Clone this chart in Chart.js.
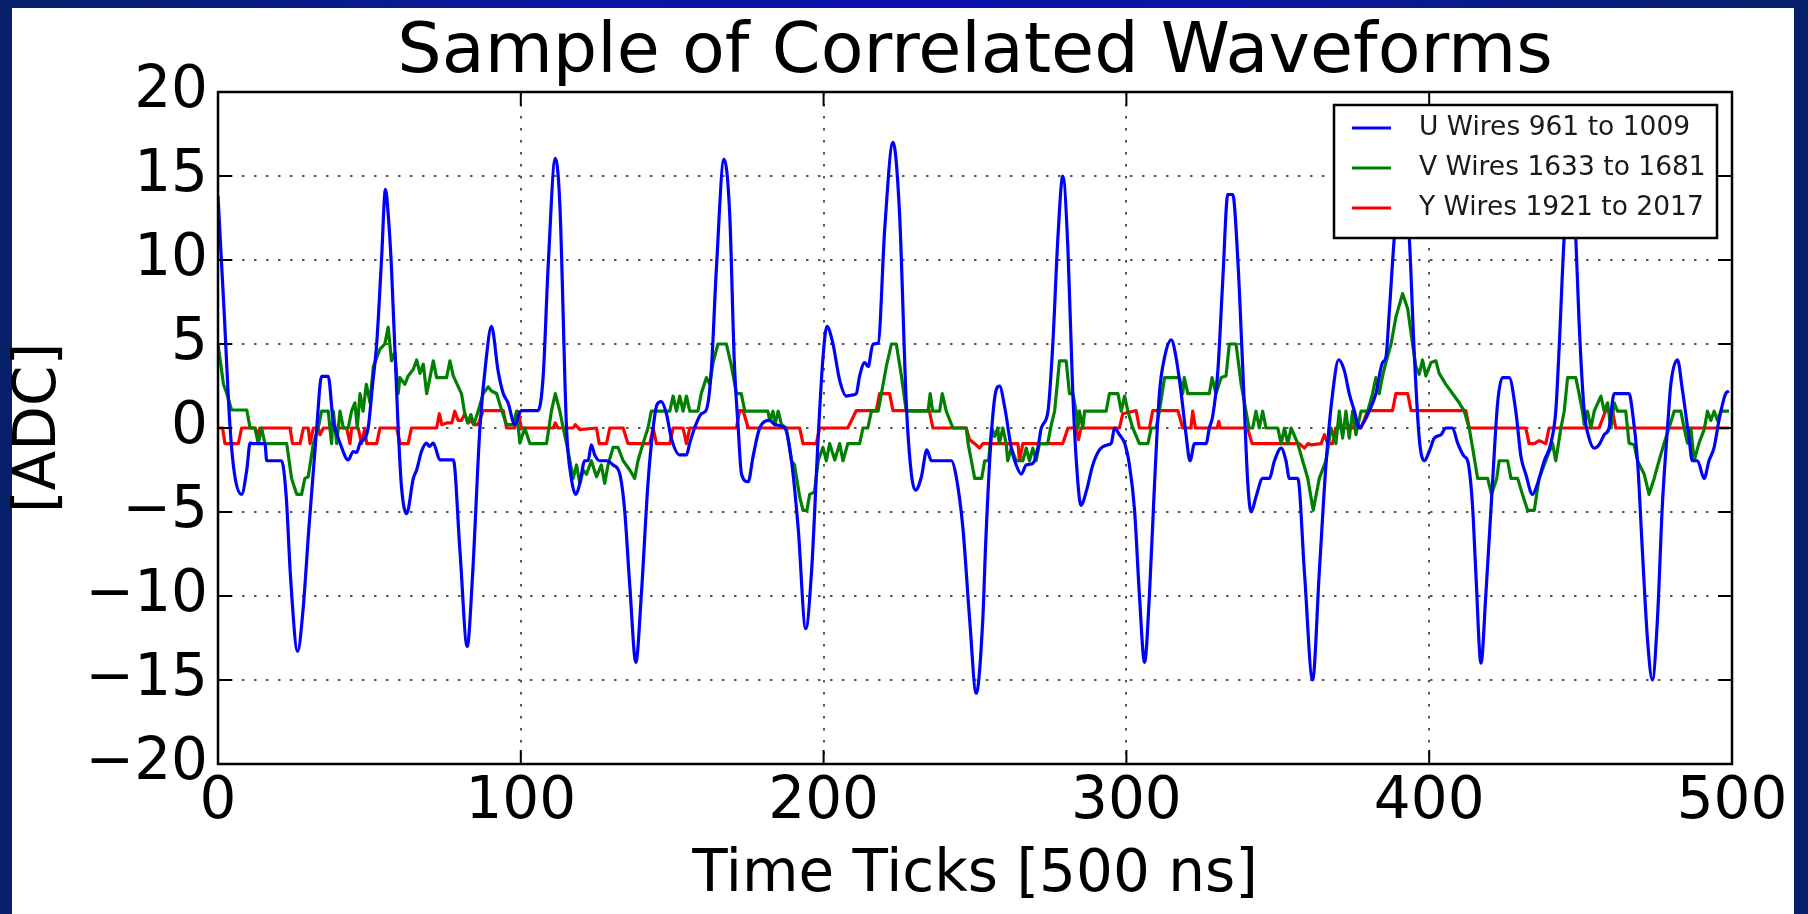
<!DOCTYPE html>
<html>
<head>
<meta charset="utf-8">
<title>Sample of Correlated Waveforms</title>
<script src="https://cdn.jsdelivr.net/npm/chart.js@4.4.1/dist/chart.umd.min.js"></script>
<style>
  html, body { margin: 0; padding: 0; }
  body {
    width: 1808px; height: 914px; overflow: hidden; position: relative;
    background: linear-gradient(to right, #06206a 0%, #0a18a0 30%, #0c10aa 50%, #0a18a0 70%, #06206a 100%);
  }
  #panel { position: absolute; left: 12px; top: 8px; width: 1782px; height: 906px; background: #fff; }
  #wrap { position: absolute; left: 0; top: 0; width: 1808px; height: 914px; }
</style>
</head>
<body>
<div id="panel"></div>
<div id="wrap"><canvas id="chart" width="1808" height="914"></canvas></div>
<script>
// Time tick positions and ADC values for each wire group
const uTicks = [0,2,4,5.5,7.8,9.5,10.6,11.7,15.5,16.1,21,22.5,24,26.3,28,30,32.6,34.2,36.4,38,39,40.3,43,44.7,45.8,46.9,48.5,49.6,51,52.4,54,55.3,56.3,57.3,59.5,60.6,62.3,64.5,65.6,67.2,68.9,69.8,71.1,73.3,77.7,79.9,82.3,84,86.5,88.5,90.3,92.5,94.2,95.8,98,100.2,105.7,107.4,109,111.4,112.9,115.1,116.7,118.2,119.5,121.1,122.2,123.3,124.4,126.1,128.3,130.5,132.7,134.3,136,138,139.8,142,143.7,145,146.4,148.1,149.7,152.5,154.7,155.8,157.4,159.6,161.3,162.9,164.6,167.1,169,170.5,171.8,172.9,175.1,176.7,178.9,182.2,183.9,187.2,189.4,191.6,194.1,196,198.2,199.8,201.1,203.1,205.3,207.5,209,210.8,211.9,213.6,214.7,216.3,218,220.2,222.9,225.1,227.3,229,230.4,232.3,234.1,235.6,242.2,243.8,246,248.2,250.4,252.6,253.5,255,256.5,258.1,259.8,262,263.6,265.3,266.9,269.1,270.8,271.9,274.1,275.7,277.4,279,280.7,282.3,284,285,286.7,288.9,291.1,293.9,295,296.1,297.7,299.4,301,302.7,304.3,306,307.6,309.3,310.9,312.6,314.8,316.4,318.1,319.7,321,322.5,326.3,327.4,328.5,330.2,331.8,333.5,335.1,336.8,338.4,340.1,341.2,342.8,345,347.2,348.9,351.1,352.7,353.8,356.6,358.8,361.5,363.7,365.9,368.1,370.1,372,373.6,375.3,376.9,378.6,380.2,382.4,384.6,385.7,386.8,388.5,390.8,393.4,395,396.7,398.4,400,401.7,403.9,405.5,407.7,409.4,411.6,412.7,414.3,415.4,417.1,418.7,420.9,422.6,424.2,426.4,428.6,430.3,431.9,434.1,435.8,438,440.2,441.8,442.9,444.6,447,448.4,449.5,451.2,452.8,454.5,456.1,457.8,459.4,461.1,466,467.1,468.8,470.4,472.1,473.7,475.4,477,478.7,479.8,482,483.6,485.8,486.9,488.6,490.8,492.4,494.1,495.7,497.9,499];
const uAdc = [13.8,7,0,-2.8,-3.95,-2.5,-0.9,-0.93,-0.93,-1.95,-1.95,-4,-9,-13.3,-11,-6,0,3.07,3.07,0.45,-0.2,-0.9,-1.9,-1.4,-1.45,-0.9,-0.6,0,2.5,5,10,14.2,12.5,9.5,0,-3.5,-5.1,-3,-2.5,-1.4,-0.9,-1.1,-0.9,-1.9,-1.9,-7.3,-13,-9,0,4,6.05,3.4,2.05,1.5,0.2,1.04,1.04,3.1,9.5,16.05,13.3,0,-3,-3.95,-3.3,-1.95,-1.95,-1,-1.6,-1.95,-1.95,-2.2,-2.75,-4.9,-9.4,-13.95,-9.95,-3.3,0,1.4,1.57,0.85,-0.6,-1.6,-1.6,-0.9,0,0.85,1.1,3.4,9.5,16,12.7,4,0,-2.75,-3.2,-1.7,0,0.45,0.2,0,-1.95,-5.95,-11.95,-8.6,-0.6,4.2,6.05,5,2.85,1.9,1.95,2.05,3.1,3.9,3.65,5,5.05,11.9,17,12.7,1.5,-2.75,-3.7,-2.9,-1.3,-1.95,-1.95,-2.9,-5.95,-11.3,-15.8,-11.3,-7,-1.5,1.8,2.5,1.25,-1.2,-2.2,-2.75,-2.2,-2.1,-1.15,0,1,5,11.4,15,10.6,2.05,-3.3,-4.6,-3.8,-2.2,-1.3,-1,-0.9,0,-0.4,-0.9,-2.2,-4.9,-9.95,-13.95,-9.95,-3.3,2.05,4.2,5.25,4.2,2.05,-0.4,-1.95,-0.93,-0.93,0,0.7,3.4,8.7,13.9,13.9,10,3.65,-3.3,-5,-4.1,-3,-3,-1.95,-1.2,-1.95,-3,-3,-8.6,-15,-8.6,-2.2,2.05,4.05,3.4,2.05,1,0,0.4,1,2.05,3.9,4.2,6.85,11.4,15.5,11.4,4.7,-0.6,-1.95,-1.4,-0.6,-0.4,0,0,-0.9,-1.7,-1.95,-4.6,-8.6,-14,-9.95,-3.3,1.5,3,3,1,-1.7,-2.75,-3.95,-3.3,-1.95,-0.9,1,4.7,11.4,15.5,11.4,6.3,1,-0.6,-1.2,-1,-0.4,0,2.05,2.05,1,-1.95,-7.3,-12.6,-15,-11.3,-4.6,0,2.6,4.05,2.3,-0.6,-1.95,-1.95,-3,-1.95,-1.15,0.45,2.05,2.2];

const vTicks = [0,1.8,2.9,4.5,9.5,10.6,12.2,13.3,14.4,15.5,22.7,24.3,26,27.6,28.7,29.8,31.5,33.1,34.2,36.4,37.5,38.1,39.2,40.3,41.4,43,44.1,45.2,46,46.9,47.9,49,50.2,51.3,53.5,55.1,56.2,57.3,58.4,59.5,60.1,61.7,62.8,64.5,65.6,66.7,67.8,68.9,70,71.1,72.2,75.5,76.6,77.7,80.4,81.5,82.5,83.5,84.5,85.9,87.6,89.2,90.3,92,93.6,95.3,97.5,98.6,99.7,101.3,103,108.5,110.1,111.4,112.9,114,115.1,116.2,117.3,118.4,119.5,120.6,121.7,123.3,125,126.6,127.7,128.8,130.5,132.1,133.8,136,137.6,138.7,140.4,142,143.1,149.2,150.3,151.4,152.5,153.6,154.7,155.8,158.5,159.6,161.3,162.4,163.5,165.1,167.9,169.6,171.2,172.8,174,181.6,182.2,183.3,183.9,185,186.1,187.7,189.4,190.4,192.1,193.2,194.5,195.4,197,198.2,199.8,200.9,202,203.7,205.3,206.4,208,211.9,213,214.6,215.8,218,219.1,220.7,222.4,224,225.7,227.3,234.5,235.2,236,238.3,239.2,240.5,242.7,247.1,247.7,248.8,249.9,252.2,253.2,254.5,255.5,256.5,257.5,258,259.2,260.3,260.8,262,263.6,265.8,266.9,268,269.1,270.2,271.3,274,275.2,276.3,277.9,280.1,281.2,282.3,283.4,284,284.5,285.6,286.2,293.3,294.4,297.2,298.3,299.4,300.5,302.1,304.3,307.1,308.2,309.8,310.9,312.6,317.5,318.6,319.1,320.3,327.4,328.3,329.6,331.3,332.9,334,336.2,337.9,339.5,340.5,341.7,342.8,343.9,345,346.1,350,351.1,352.2,353.3,354.4,356.6,358.2,359.9,361.7,363.7,365.9,367.6,369.2,370.3,371.4,372.5,373.6,374.7,375.8,377.5,379.7,381.3,382.4,383.5,384.6,385.7,387.4,389,391.2,392.9,394.5,395.6,396.7,397.8,398.9,400.6,402.2,403.3,405.5,407.7,409.9,411.6,413.2,414.3,416,419.3,420.6,422.3,423.1,425.9,427,429.2,430.8,432.5,434.7,436.3,438.5,440.7,441.8,443.5,444.6,445.7,448.4,449.5,450.6,451.2,452.3,453.4,454.5,456.7,457.8,458.9,460,461.1,462.2,464.9,466,467.7,468.8,471,472.6,474.3,475.9,477.6,479.2,480.9,483.1,484.2,485.3,486.4,487.5,489.1,490.8,491.9,493,494.1,495.2,496.3,498,499];
const vAdc = [5,2.6,2.05,1.07,1.07,0,0,-0.93,0,-0.93,-0.93,-3,-3.95,-3.95,-3,-2.9,-0.9,0,1,1,-0.93,1,-0.93,1,0,0,1,1.5,0,2.05,1,2.6,1.5,3.65,4.7,5,6,4,4.5,2.05,3,2.6,3.1,3.5,4.05,3.25,3.8,2.05,3,4,3,3,4,3.1,2.05,0.85,0.3,0.8,0.2,1,2.05,2.45,2.2,2.05,1.1,0.2,0.2,1,-0.9,0,-0.93,-0.93,1,2.05,1,0,-0.9,-1.95,-3,-2.2,-3.3,-2.5,-2.75,-1.95,-2.9,-2.2,-3.3,-2.2,-1.15,-1.15,-1.95,-2.5,-3,-1.95,-0.9,0,1,1,1.9,1,1.9,1,1.9,1,1,2.05,3,2.6,3.9,5,5,3.65,2.05,2.05,1,1,0.45,1,0.2,1,0.2,0,-1.95,-2.2,-4.1,-4.9,-4.9,-3.95,-3.8,-1.95,-1.15,-1.95,-0.93,-1.9,-0.93,-1.95,-0.93,-0.93,0,0,1,1,2.05,3.65,5,5,3.1,1,1,2.05,1,1,2.05,1,0,0,-0.9,-1.95,-3,-3,-1.95,-1.95,0,-0.5,0,-0.93,0,-0.93,-1.95,-1.2,-1.95,-1.95,-1.2,-1.95,-1.2,-1.95,-0.93,-0.93,0.2,1,4,4,2.05,2.05,1,0,1,0,1,1,2.05,2.05,1,1.9,1,0,-0.93,-0.93,0,0,1,3,3,2.05,3,2.05,2.05,3,2.05,3,3.1,5,5,2.6,1,0,0,1,0,1,0,0,-0.93,0,-0.93,0,-0.93,-1.95,-3,-4.9,-3,-1.95,0,-0.93,1,-0.6,1,-0.6,1,-0.4,1,1,2.05,3,2.05,3.1,3.9,5,6.6,8,7.1,5,3.65,3.2,4.05,3.1,3.9,4,3.25,2.6,2.05,1.5,1,0,-1.15,-3,-3,-3.95,-3,-1.95,-1.95,-3,-3,-3.95,-4.9,-4.9,-3,-1.95,-0.9,-1.95,0,1,3,3,2.05,1,0.2,1,0,1,1.9,1,1.5,0,1.5,1,1,-0.9,-1,-1.95,-2.75,-3.95,-3,-1.95,-0.9,0,1,1,0,-0.9,0,-1.95,-0.9,-0.1,1,0.45,1,0.45,1,1,1];

const yTicks = [0,1.5,2.3,6.7,7.8,12.2,13,13.8,23.8,24.6,27.1,28.2,29.8,30.4,31.5,33.1,33.7,34.8,42.5,43.6,44.1,46.3,47.4,48.5,49.1,52.4,53.5,59,60.1,62.8,63.9,72.2,73.1,73.9,75.5,77.2,78.2,79.3,80.4,81.5,82.6,83.5,84.5,85.9,87.6,94.2,95.3,98,99.1,100.2,110.7,111.4,112.3,117.3,118,119.5,125,125.9,128.3,129.4,133.8,135.4,142.6,143.7,144.8,149.2,150.3,153.6,154.7,155.8,171.2,172.3,173.4,175.1,192.1,193.2,197.6,198.7,208,210.8,217.4,218.5,221.8,222.9,234.9,236.1,247.1,248.2,249.9,251.5,252.6,264.2,264.7,265.8,279,280.7,283.4,284.2,285,297.7,298.8,303.2,304.3,307.6,308.7,317,318.6,321.3,321.9,322.8,330,330.5,331,340,341.5,357.1,358.8,359.9,361,364.3,365.4,366.5,368.1,369.2,374.7,375.8,377.5,379.7,387.9,389,392.9,394,412.1,413.2,431.9,433,434.7,436.3,438.5,439.6,456.1,458.3,460.5,461.6,499];
const yAdc = [0,0,-0.93,-0.93,0,0,-0.4,0,0,-0.93,-0.93,0,0,-0.93,0,0,-0.4,0,0,-0.93,0,0,-0.93,0,-0.93,-0.93,0,0,-0.93,-0.93,0,0,0.85,0.2,0.3,0.3,1,0.45,0.45,0.85,0.3,0.45,0.2,0.2,1.04,1.04,0,0,1,0,0,0.3,0,0,0.2,-0.1,0,-0.93,-0.93,0,0,-0.93,-0.93,0,-0.93,-0.93,0,0,-0.93,0,0,1.04,1.04,0,0,-0.93,-0.93,0,0,1.04,1.04,2.05,2.05,1.04,1.04,0,0,-0.7,-0.93,-1.2,-0.93,-0.93,-1.95,-0.93,-0.93,0,0,-0.7,0,0,0.85,1.04,0,0,1.04,1.04,0,0,1,0,0,0.4,0,0,-0.93,-0.93,-1.2,-0.93,-1,-0.93,-0.4,-0.93,-0.93,0,0,0.3,0,1.04,1.04,2.05,2.05,1.04,1.04,0,0,-0.93,-0.93,-0.75,-0.93,0,0,1.04,1.04,0,0];

const seriesLabels = ['U Wires 961 to 1009', 'V Wires 1633 to 1681', 'Y Wires 1921 to 2017'];
const seriesColors = ['#0000ff', '#008000', '#ff0000'];
const xTickValues = [0, 100, 200, 300, 400, 500];
const yTickValues = [-20, -15, -10, -5, 0, 5, 10, 15, 20];

const FONT = "'DejaVu Sans', 'Liberation Sans', sans-serif";
const asPoints = (xs, ys) => xs.map((x, i) => ({ x: x, y: ys[i] }));
const signed = v => (v < 0 ? '\u2212' + Math.abs(v) : String(v));

// Axes frame with inward tick marks on all four sides
const framePlugin = {
  id: 'frame',
  afterDatasetsDraw(chart) {
    const { ctx, chartArea: a, scales } = chart;
    ctx.save();
    ctx.strokeStyle = '#000';
    ctx.lineWidth = 2;
    const len = 14;
    ctx.beginPath();
    xTickValues.forEach(v => {
      const px = scales.x.getPixelForValue(v);
      ctx.moveTo(px, a.bottom); ctx.lineTo(px, a.bottom - len);
      ctx.moveTo(px, a.top); ctx.lineTo(px, a.top + len);
    });
    yTickValues.forEach(v => {
      const py = scales.y.getPixelForValue(v);
      ctx.moveTo(a.left, py); ctx.lineTo(a.left + len, py);
      ctx.moveTo(a.right, py); ctx.lineTo(a.right - len, py);
    });
    ctx.stroke();
    ctx.lineWidth = 2.5;
    ctx.strokeRect(a.left, a.top, a.right - a.left, a.bottom - a.top);
    ctx.restore();
  }
};

// Boxed legend in the upper right corner of the plot
const boxLegendPlugin = {
  id: 'boxLegend',
  afterDraw(chart) {
    const { ctx, chartArea: a } = chart;
    const left = a.right - 398, right = a.right - 15;
    const top = a.top + 13, bottom = a.top + 146;
    ctx.save();
    ctx.fillStyle = '#fff';
    ctx.fillRect(left, top, right - left, bottom - top);
    ctx.strokeStyle = '#000';
    ctx.lineWidth = 2.5;
    ctx.strokeRect(left, top, right - left, bottom - top);
    ctx.font = '26.5px ' + FONT;
    ctx.textBaseline = 'middle';
    ctx.textAlign = 'left';
    chart.data.datasets.forEach((ds, i) => {
      const y = top + 23 + i * 40;
      ctx.strokeStyle = ds.borderColor;
      ctx.lineWidth = 3;
      ctx.beginPath();
      ctx.moveTo(left + 18, y); ctx.lineTo(left + 57, y);
      ctx.stroke();
      ctx.fillStyle = '#1a1a1a';
      ctx.fillText(ds.label, left + 85, y);
    });
    ctx.restore();
  }
};

const datasets = [asPoints(uTicks, uAdc), asPoints(vTicks, vAdc), asPoints(yTicks, yAdc)].map((pts, i) => ({
  label: seriesLabels[i],
  data: pts,
  borderColor: seriesColors[i],
  backgroundColor: seriesColors[i],
  borderWidth: 3.2,
  pointRadius: 0,
  cubicInterpolationMode: i === 0 ? 'monotone' : 'default',
  tension: 0,
  borderJoinStyle: 'round',
  fill: false
}));

new Chart(document.getElementById('chart'), {
  type: 'line',
  data: { datasets: datasets },
  options: {
    responsive: false,
    animation: false,
    devicePixelRatio: 1,
    parsing: false,
    layout: { padding: { left: 0, right: 76, top: 19, bottom: 0 } },
    plugins: {
      legend: { display: false },
      tooltip: { enabled: false },
      title: {
        display: true,
        text: 'Sample of Correlated Waveforms',
        fullSize: false,
        color: '#000',
        font: { family: FONT, size: 70, weight: 'normal', lineHeight: 1 },
        padding: { top: 0, bottom: 3 }
      }
    },
    scales: {
      x: {
        type: 'linear', min: 0, max: 500,
        afterBuildTicks: s => { s.ticks = xTickValues.map(v => ({ value: v })); },
        ticks: { color: '#000', font: { family: FONT, size: 58 }, padding: 4, maxRotation: 0, autoSkip: false, callback: signed },
        grid: { color: '#555', lineWidth: 2, drawTicks: false },
        border: { display: false, dash: [2.5, 9.5] },
        title: { display: true, text: 'Time Ticks [500 ns]', color: '#000', font: { family: FONT, size: 58, lineHeight: 1 }, padding: { top: 0, bottom: 9 } },
        afterFit: s => { s.height = 150; }
      },
      y: {
        type: 'linear', min: -20, max: 20,
        afterBuildTicks: s => { s.ticks = yTickValues.map(v => ({ value: v })); },
        ticks: { color: '#000', font: { family: FONT, size: 58 }, padding: 10, autoSkip: false, callback: signed },
        grid: { color: '#555', lineWidth: 2, drawTicks: false },
        border: { display: false, dash: [2.5, 9.5] },
        title: { display: true, text: '[ADC]', color: '#000', font: { family: FONT, size: 58, lineHeight: 1 }, padding: { top: 11, bottom: 0 } },
        afterFit: s => { s.width = 218; }
      }
    }
  },
  plugins: [framePlugin, boxLegendPlugin]
});
</script>
</body>
</html>
